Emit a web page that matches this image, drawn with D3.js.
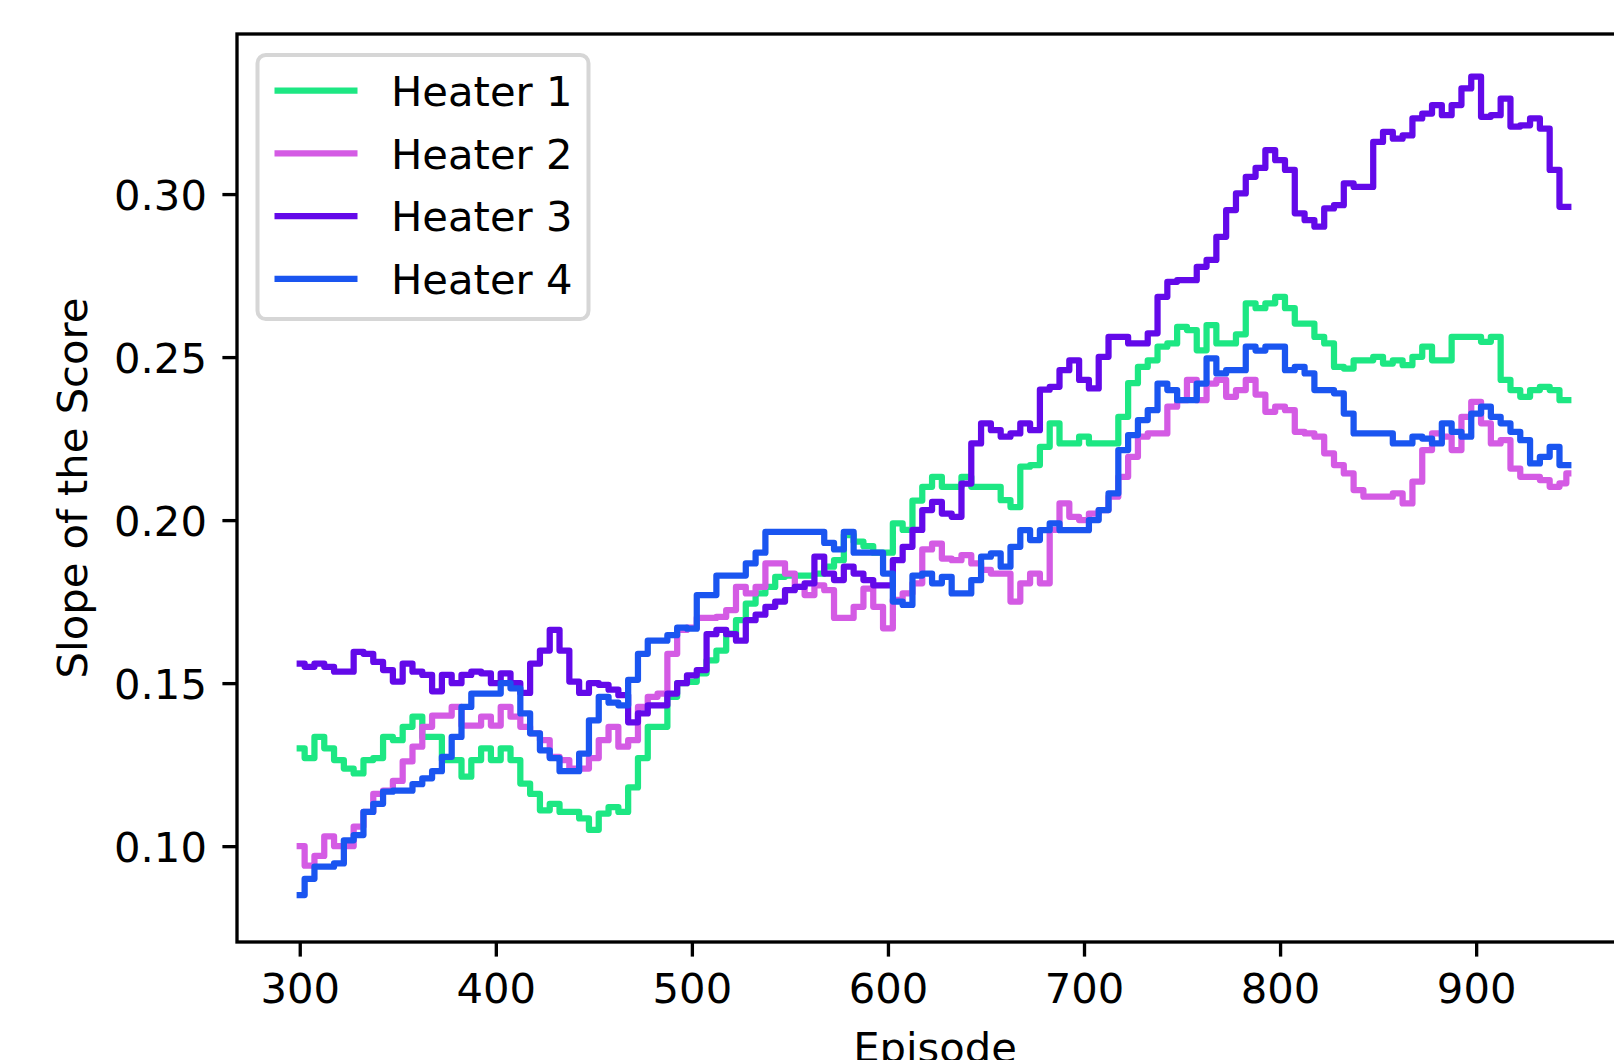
<!DOCTYPE html>
<html>
  <head>
    <script src="https://cdn.jsdelivr.net/npm/d3@7"></script>
    <style>
      body { margin: 0; background: #fff; }
      text { font-family: "DejaVu Sans", sans-serif; }
    </style>
  </head>
  <body>
    <svg id="chart" width="1614" height="1060"></svg>
    <script>
    // episodes sampled every 5 steps, last point is the final episode
    var episodes = d3.range(300, 946, 5).concat([947]);

    var heater1 = [
      0.130,0.127,0.1335,0.130,0.1264,0.1238,0.1223,0.1264,0.127,0.1335,
      0.1325,0.1366,0.1397,0.1335,0.1335,0.1264,0.1264,0.1213,0.1264,0.130,
      0.1264,0.130,0.1264,0.1192,0.116,0.111,0.113,0.1105,0.1105,0.1085,
      0.105,0.110,0.112,0.1105,0.118,0.127,0.1366,0.1366,0.1458,0.150,
      0.1504,0.153,0.157,0.160,0.1652,0.1693,0.1744,0.1775,0.1795,0.1826,
      0.183,0.183,0.183,0.1836,0.1857,0.1877,0.1954,0.1934,0.192,0.190,
      0.190,0.199,0.197,0.206,0.2102,0.2133,0.2102,0.2102,0.2133,0.2102,
      0.2102,0.2102,0.2061,0.204,0.2164,0.2169,0.2225,0.2297,0.2235,0.2235,
      0.2256,0.2235,0.2235,0.2235,0.2317,0.242,0.247,0.249,0.2532,0.2542,
      0.2593,0.2583,0.2521,0.2598,0.2542,0.2542,0.257,0.2665,0.265,0.2665,
      0.2685,0.265,0.2603,0.2603,0.2562,0.2542,0.247,0.2465,0.249,0.249,
      0.2501,0.248,0.249,0.2475,0.2501,0.2532,0.249,0.249,0.2562,0.2562,
      0.2562,0.2547,0.2562,0.243,0.2399,0.2378,0.2399,0.2409,0.2399,0.2368,
      0.2368];
    var heater2 = [
      0.100,0.094,0.097,0.103,0.100,0.100,0.106,0.1105,0.116,0.117,
      0.120,0.126,0.1305,0.1366,0.140,0.140,0.1427,0.137,0.137,0.1397,
      0.137,0.1427,0.1397,0.1366,0.1346,0.1325,0.1274,0.1264,0.1238,0.1238,
      0.127,0.1325,0.1366,0.1305,0.1325,0.1427,0.1458,0.1468,0.159,0.1663,
      0.167,0.170,0.170,0.1703,0.1724,0.1795,0.1775,0.1795,0.1867,0.1867,
      0.1836,0.1795,0.177,0.180,0.1785,0.170,0.170,0.1734,0.179,0.1734,
      0.1668,0.1755,0.1775,0.1806,0.191,0.1928,0.1882,0.1877,0.1893,0.1867,
      0.1847,0.1836,0.1836,0.175,0.1806,0.1836,0.1806,0.197,0.2051,0.201,
      0.200,0.202,0.2031,0.2072,0.2133,0.2194,0.2256,0.2266,0.2266,0.2348,
      0.2368,0.243,0.2368,0.2419,0.243,0.2378,0.2399,0.243,0.2385,0.2332,
      0.2348,0.2337,0.2271,0.2266,0.2256,0.2205,0.2169,0.2143,0.2092,0.2072,
      0.2072,0.2072,0.2082,0.2051,0.2118,0.2215,0.2266,0.2256,0.2215,0.2317,
      0.2363,0.2297,0.2235,0.2245,0.2158,0.2133,0.2133,0.2123,0.2102,0.2113,
      0.2143];
    var heater3 = [
      0.156,0.155,0.156,0.155,0.1535,0.1535,0.1596,0.159,0.1565,0.154,
      0.1505,0.156,0.1535,0.1525,0.1475,0.1525,0.150,0.1525,0.1535,0.153,
      0.150,0.153,0.150,0.147,0.156,0.160,0.1663,0.160,0.1505,0.147,
      0.150,0.1495,0.148,0.1463,0.138,0.1407,0.1432,0.1432,0.1468,0.150,
      0.1524,0.154,0.165,0.1663,0.165,0.163,0.1693,0.171,0.1734,0.175,
      0.1785,0.1795,0.1806,0.1888,0.1836,0.1816,0.1857,0.1836,0.1816,0.180,
      0.180,0.1877,0.1918,0.197,0.2031,0.2056,0.202,0.201,0.2112,0.2235,
      0.2297,0.2276,0.2256,0.2266,0.2297,0.2276,0.240,0.2409,0.246,0.249,
      0.243,0.2404,0.2501,0.2562,0.2562,0.2542,0.2542,0.2573,0.2685,0.2731,
      0.2736,0.2736,0.2777,0.2798,0.2869,0.2951,0.3002,0.3053,0.308,0.3135,
      0.3104,0.3074,0.2941,0.292,0.290,0.2956,0.2966,0.3033,0.3022,0.3022,
      0.316,0.3191,0.317,0.318,0.3232,0.3247,0.3273,0.3242,0.3273,0.3324,
      0.336,0.3237,0.3242,0.3293,0.3207,0.3211,0.3232,0.3201,0.3074,0.2961,
      0.2961];
    var heater4 = [
      0.085,0.090,0.0937,0.0937,0.0947,0.1018,0.1034,0.1105,0.113,0.1167,
      0.117,0.117,0.119,0.1208,0.123,0.1274,0.1335,0.1427,0.1468,0.1468,
      0.1468,0.150,0.1484,0.1407,0.1346,0.1294,0.127,0.123,0.123,0.1284,
      0.1386,0.1458,0.144,0.1432,0.151,0.159,0.163,0.163,0.1647,0.167,
      0.1667,0.177,0.177,0.183,0.183,0.183,0.1867,0.190,0.1964,0.1964,
      0.1964,0.1964,0.1964,0.1964,0.193,0.191,0.1964,0.190,0.190,0.190,
      0.1836,0.175,0.174,0.183,0.1836,0.1806,0.1826,0.1775,0.1775,0.1816,
      0.1888,0.1898,0.1857,0.1918,0.1969,0.1939,0.1969,0.199,0.1969,0.1969,
      0.1969,0.200,0.2031,0.2082,0.2215,0.2261,0.2307,0.2337,0.2419,0.2399,
      0.2368,0.2368,0.2419,0.2496,0.245,0.246,0.246,0.2532,0.252,0.2532,
      0.2532,0.246,0.247,0.245,0.2399,0.2399,0.2389,0.2327,0.2266,0.2266,
      0.2266,0.2266,0.2235,0.2235,0.2256,0.225,0.2235,0.2297,0.2271,0.2256,
      0.2327,0.2348,0.2317,0.2297,0.2271,0.2245,0.2174,0.2194,0.2225,0.2169,
      0.2169];

    var seriesNames = ["Heater 1", "Heater 2", "Heater 3", "Heater 4"];
    var seriesColours = ["#1de783", "#d45be4", "#6309e9", "#1a55f0"];
    var xTicks = [300, 400, 500, 600, 700, 800, 900];
    var yTicks = [0.10, 0.15, 0.20, 0.25, 0.30];

    var svg = d3.select("#chart");
    var fontSize = 41.7, lw = 6.25, spineW = 3.33, tickLen = 14.6;

    var axLeft = 237, axTop = 34, axBottom = 942, axRight = 1633;
    var x = d3.scaleLinear().domain([268, 980]).range([axLeft, axRight]);
    var y = d3.scaleLinear().domain([0.0706, 0.3491]).range([axBottom, axTop]);

    svg.append("rect").attr("width", 1614).attr("height", 1060).attr("fill", "#fff");

    // the source data is quantised, so the curves read as small stairs
    var line = d3.line()
      .curve(d3.curveStep)
      .x(function(d){ return x(d[0]); })
      .y(function(d){ return y(d[1]); });

    [heater1, heater2, heater3, heater4].forEach(function(vals, i){
      svg.append("path")
        .datum(episodes.map(function(e, j){ return [e, vals[j]]; }))
        .attr("d", line)
        .attr("fill", "none")
        .attr("stroke", seriesColours[i])
        .attr("stroke-width", lw)
        .attr("stroke-linejoin", "round")
        .attr("stroke-linecap", "square");
    });

    // axes
    var xAxis = svg.append("g")
      .attr("transform", "translate(0," + axBottom + ")")
      .call(d3.axisBottom(x).tickValues(xTicks).tickSize(tickLen).tickPadding(16.8));
    var yAxis = svg.append("g")
      .attr("transform", "translate(" + axLeft + ",0)")
      .call(d3.axisLeft(y).tickValues(yTicks).tickFormat(d3.format(".2f")).tickSize(tickLen).tickPadding(15.5));
    [xAxis, yAxis].forEach(function(g){
      g.select(".domain").remove();
      g.selectAll(".tick line").attr("stroke", "#000").attr("stroke-width", spineW);
      g.selectAll(".tick text").attr("fill", "#000").style("font-size", fontSize + "px")
        .style("font-family", "DejaVu Sans");
    });
    yAxis.selectAll(".tick text").attr("dy", "0.36em");

    // spines
    svg.append("rect")
      .attr("x", axLeft).attr("y", axTop)
      .attr("width", axRight - axLeft).attr("height", axBottom - axTop)
      .attr("fill", "none").attr("stroke", "#000").attr("stroke-width", spineW);

    // axis labels (the x label is cut by the figure edge, as in the source)
    svg.append("text")
      .attr("x", (axLeft + axRight) / 2).attr("y", 1062)
      .attr("text-anchor", "middle").style("font-size", fontSize + "px")
      .text("Episode");
    svg.append("text")
      .attr("transform", "translate(87," + ((axTop + axBottom) / 2) + ") rotate(-90)")
      .attr("text-anchor", "middle").style("font-size", fontSize + "px")
      .text("Slope of the Score");

    // legend
    var lg = svg.append("g");
    lg.append("rect")
      .attr("x", 257.5).attr("y", 55).attr("width", 331).attr("height", 264)
      .attr("rx", 8.3).attr("fill", "#fff").attr("fill-opacity", 0.8)
      .attr("stroke", "#d6d6d6").attr("stroke-width", 4);
    seriesNames.forEach(function(name, i){
      var cy = 90.5 + i * 62.8;
      lg.append("line")
        .attr("x1", 274.5).attr("x2", 357.5).attr("y1", cy).attr("y2", cy)
        .attr("stroke", seriesColours[i]).attr("stroke-width", lw);
      lg.append("text")
        .attr("x", 391).attr("y", cy + 15.3)
        .style("font-size", fontSize + "px")
        .text(name);
    });
    </script>
  </body>
</html>
